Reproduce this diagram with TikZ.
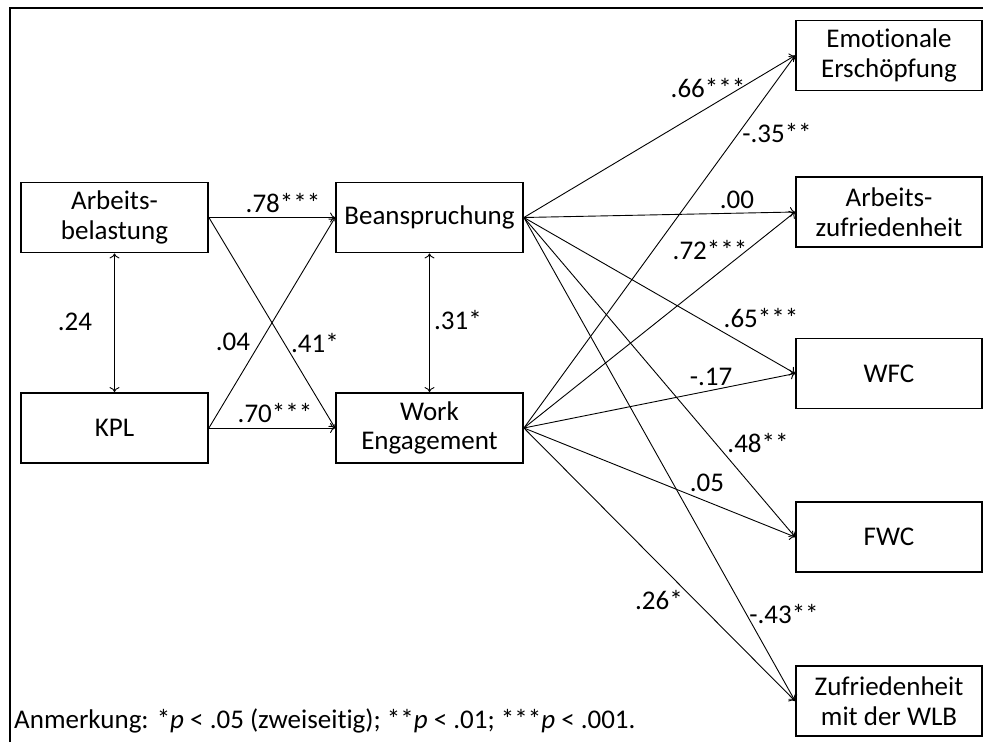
\documentclass[tikz,border=0pt]{standalone}
\usepackage{fontspec}
\setmainfont{Carlito}[Ligatures={NoCommon}]
\usetikzlibrary{arrows.meta}
\begin{document}
\begin{tikzpicture}[x=1pt,y=-1pt,
  box/.style={draw,line width=1.8pt,minimum width=187pt,minimum height=70pt,inner sep=0pt,align=center,font=\fontsize{27}{29.5}\selectfont},
  conn/.style={line width=0.9pt,-{To[length=5pt,width=10pt,line width=0.9pt]}},
  biconn/.style={line width=0.9pt,{To[length=5pt,width=10pt,line width=0.9pt]}-{To[length=5pt,width=10pt,line width=0.9pt]}},
  lab/.style={inner sep=0pt,font=\fontsize{27}{29.5}\selectfont}]
\useasboundingbox (0,0) rectangle (983,742);
\fill[white] (0,0) rectangle (983,742);
% outer frame (cropped on right and bottom)
\draw[line width=2pt] (10,742) -- (10,8) -- (983,8);

% boxes
\node[box] (arb) at (114.5,217.5) {Arbeits-\\belastung};
\node[box] (kpl) at (114.5,428) {KPL};
\node[box] (bea) at (429.5,217.5) {Beanspruchung};
\node[box] (we) at (429.5,428) {Work\\Engagement};
\node[box,minimum width=186pt] (emo) at (889,55.5) {Emotionale\\Erschöpfung};
\node[box,minimum width=186pt] (azf) at (889,212) {Arbeits-\\zufriedenheit};
\node[box,minimum width=186pt] (wfc) at (889,373.5) {WFC};
\node[box,minimum width=186pt] (fwc) at (889,537) {FWC};
\node[box,minimum width=186pt] (zuf) at (889,701) {Zufriedenheit\\mit der WLB};

% left connectors
\draw[conn] (arb.east) -- (bea.west);
\draw[conn] (arb.east) -- (we.west);
\draw[conn] (kpl.east) -- (bea.west);
\draw[conn] (kpl.east) -- (we.west);
\draw[biconn] (arb.south) -- (kpl.north);
\draw[biconn] (bea.south) -- (we.north);

% right connectors
\foreach \t in {emo,azf,wfc,fwc,zuf}{
  \draw[conn] (bea.east) -- (\t.west);
  \draw[conn] (we.east) -- (\t.west);
}

% labels
\node[lab] (l78) at (283,203) {.78***};
\node[lab] (l04) at (233,342) {.04};
\node[lab] (l41) at (315,343) {.41*};
\node[lab] (l70) at (275,413) {.70***};
\node[lab] (l24) at (75,322) {.24};
\node[lab] (l31) at (458,320) {.31*};
\node[lab] (l66) at (708,88) {.66***};
\node[lab] (l35) at (777,133) {-.35**};
\node[lab] (l00) at (737,200) {.00};
\node[lab] (l72) at (710,250) {.72***};
\node[lab] (l65) at (761,318) {.65***};
\node[lab] (l17) at (711,377) {-.17};
\node[lab] (l48) at (758,443) {.48**};
\node[lab] (l05) at (707,483) {.05};
\node[lab] (l26) at (659,600) {.26*};
\node[lab] (l43) at (784,614) {-.43**};

% footnote
\node[lab,anchor=west] (note) at (14,721) {Anmerkung: *\textit{p} < .05 (zweiseitig); **\textit{p} < .01; ***\textit{p} < .001.};
\end{tikzpicture}
\end{document}
